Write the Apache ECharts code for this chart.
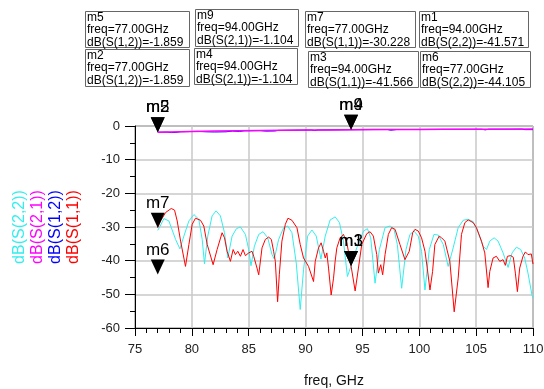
<!DOCTYPE html>
<html>
<head>
<meta charset="utf-8">
<style>html,body{margin:0;padding:0;background:#fff;}#chart{width:544px;height:389px;}</style>
<script src="https://cdn.jsdelivr.net/npm/echarts@6/dist/echarts.min.js"></script>
</head>
<body>
<div id="chart"></div>
<script>
// ---------------- data ----------------
var xTicks = [75, 80, 85, 90, 95, 100, 105, 110];
var yTicks = [0, -10, -20, -30, -40, -50, -60];

var s11Freq = [77.0,77.25,77.69,78.19,78.48,78.71,79.01,79.44,79.74,80.03,80.32,80.76,81.05,81.35,81.87,82.22,82.66,82.87,83.10,83.39,83.63,83.83,84.04,84.27,84.50,84.71,85.0,85.29,85.44,85.73,85.88,86.17,86.46,86.75,86.99,87.19,87.34,87.54,87.69,87.92,88.22,88.45,88.80,89.24,89.53,89.82,90.26,90.70,90.85,91.14,91.37,91.58,91.73,91.87,92.02,92.25,92.46,92.60,92.75,93.04,93.33,93.63,94.0,94.36,94.65,94.94,95.38,95.67,95.96,96.26,96.40,96.61,96.78,96.99,97.28,97.57,97.87,98.30,98.74,98.89,99.12,99.42,99.62,99.91,100.20,100.50,100.70,100.94,101.17,101.37,101.75,101.96,102.25,102.69,103.07,103.42,103.71,104.01,104.30,104.74,105.03,105.47,105.76,106.05,106.20,106.49,106.78,107.08,107.37,107.57,107.75,108.04,108.27,108.45,108.63,108.83,109.12,109.33,109.56,109.85,110.0];
var s11dB = [-30.23,-28.2,-25.7,-24.5,-25.0,-28.2,-34.2,-41.7,-35.2,-29.2,-27.4,-28.0,-29.7,-35.2,-41.2,-36.7,-31.7,-33.2,-37.2,-40.2,-36.7,-38.2,-37.2,-38.7,-36.7,-38.5,-37.7,-37.2,-38.7,-42.2,-44.2,-36.2,-33.7,-33.0,-33.7,-37.2,-40.2,-52.2,-44.2,-34.2,-29.2,-27.4,-28.0,-30.2,-35.2,-39.2,-41.7,-46.2,-40.2,-36.2,-34.7,-37.2,-39.2,-37.7,-42.2,-50.2,-45.2,-40.2,-36.2,-33.2,-32.2,-34.7,-41.57,-49.0,-42.2,-35.2,-32.0,-31.4,-32.7,-38.2,-43.7,-41.2,-44.2,-38.2,-32.2,-30.2,-30.7,-35.2,-39.7,-40.2,-37.2,-31.7,-30.7,-31.2,-33.2,-37.2,-42.2,-48.7,-43.2,-35.2,-32.7,-33.2,-34.2,-40.2,-55.2,-45.2,-32.2,-28.7,-27.9,-28.7,-30.2,-34.2,-37.7,-48.0,-43.2,-39.2,-38.7,-40.2,-39.7,-41.4,-38.7,-38.5,-39.0,-43.7,-49.2,-42.2,-38.7,-37.4,-38.2,-38.0,-41.0];

var s22Freq = [77.0,77.19,77.54,77.98,78.57,78.95,79.30,79.74,80.18,80.61,80.91,81.11,81.40,81.78,82.13,82.51,82.87,83.16,83.54,83.92,84.27,84.71,85.00,85.20,85.50,85.88,86.26,86.67,87.05,87.25,87.63,88.07,88.42,88.80,89.18,89.53,89.82,90.18,90.56,90.94,91.35,91.73,92.16,92.60,92.98,93.33,93.68,94.0,94.50,95.09,95.44,95.73,96.11,96.49,96.99,97.43,97.78,98.07,98.45,98.83,99.18,99.53,99.91,100.20,100.50,100.88,101.29,101.67,102.11,102.54,102.98,103.42,103.86,104.30,104.74,105.18,105.61,105.91,106.20,106.58,106.93,107.37,107.81,108.16,108.54,108.92,109.27,109.56,109.91,110.0];
var s22dB = [-31.0,-29.9,-27.5,-28.2,-33.7,-36.5,-32.7,-28.2,-26.3,-27.7,-33.7,-40.9,-32.7,-26.7,-25.2,-26.7,-31.7,-39.2,-32.7,-30.5,-30.0,-32.2,-36.7,-41.5,-35.7,-32.2,-31.4,-33.2,-38.2,-39.5,-33.7,-30.2,-29.7,-31.7,-40.7,-54.5,-42.7,-32.7,-30.9,-32.7,-39.5,-32.7,-27.9,-27.0,-28.7,-34.2,-44.7,-41.57,-36.2,-31.2,-30.5,-33.2,-46.7,-36.7,-30.2,-29.7,-30.7,-35.2,-48.2,-36.7,-32.2,-31.2,-32.7,-37.2,-48.7,-36.7,-32.2,-32.4,-35.2,-41.7,-36.2,-30.2,-28.0,-27.7,-28.4,-31.7,-35.7,-36.7,-34.2,-33.2,-34.2,-37.7,-42.0,-37.7,-36.0,-36.7,-39.2,-43.7,-50.2,-51.0];

var s21Freq = [77,78,79,80,82,84,86,88,90,92,94,96,98,100,102,104,106,108,110];
var s21dB = [-1.859,-1.78,-1.70,-1.62,-1.52,-1.44,-1.36,-1.29,-1.22,-1.16,-1.104,-1.07,-1.04,-1.02,-1.00,-0.98,-0.96,-0.94,-0.92];

var s12Freq = [77,77.8,78.2,78.6,79,80.5,81.2,82,83,83.6,84.2,84.6,86,86.5,87.3,87.6,90.5,90.8,91.1,94,97.2,97.5,98,105.5,105.8,106.1,109,109.3,110];
var s12dB = [-1.859,-1.82,-1.95,-1.9,-1.70,-1.60,-1.72,-1.78,-1.72,-1.5,-1.62,-1.43,-1.37,-1.52,-1.48,-1.3,-1.20,-1.35,-1.18,-1.104,-1.05,-1.25,-1.05,-0.97,-1.15,-0.96,-0.93,-1.08,-1.08];

var seriesNames = ['dB(S(1,1))', 'dB(S(1,2))', 'dB(S(2,1))', 'dB(S(2,2))'];

var markerNames = ['m5','m9','m7','m1','m2','m4','m3','m6'];
var markerFreq  = [77.00, 94.00, 77.00, 94.00, 77.00, 94.00, 94.00, 77.00];
var markerVal   = [-1.859, -1.104, -30.228, -41.571, -1.859, -1.104, -41.566, -44.105];
var markerSeries= ['dB(S(1,2))','dB(S(2,1))','dB(S(1,1))','dB(S(2,2))','dB(S(1,2))','dB(S(2,1))','dB(S(1,1))','dB(S(2,2))'];

// ---------------- styling / layout ----------------
var FONT = 'Liberation Sans, Arial, Helvetica, sans-serif';
var colors = {'dB(S(1,1))':'#ff0000','dB(S(1,2))':'#0000ff','dB(S(2,1))':'#ff00ff','dB(S(2,2))':'#33eeee'};
var boxRects = [
  [85,11,104,36],[195,9,103,37],[305,11,110,36],[419,11,109,36],
  [85,49,104,37],[194,48,103,36],[308,51,110,36],[420,51,110,36]
];
var markerStack = ['m5','m2','m4','m9','m7','m3','m1','m6']; // drawing order of overlapping marker labels
var legendX = {'dB(S(2,2))':20,'dB(S(2,1))':38,'dB(S(1,2))':56,'dB(S(1,1))':74};

function zip(a, b){ var r=[]; for (var i=0;i<a.length;i++) r.push([a[i], b[i]]); return r; }
var seriesData = {
  'dB(S(1,1))': zip(s11Freq, s11dB),
  'dB(S(1,2))': zip(s12Freq, s12dB),
  'dB(S(2,1))': zip(s21Freq, s21dB),
  'dB(S(2,2))': zip(s22Freq, s22dB)
};

function markersFor(name){
  var d=[];
  markerStack.forEach(function(m){
    var i = markerNames.indexOf(m);
    if (markerSeries[i]===name) d.push({name:markerNames[i], coord:[markerFreq[i], markerVal[i]]});
  });
  return d;
}

var drawOrder = ['dB(S(1,2))','dB(S(2,1))','dB(S(2,2))','dB(S(1,1))'];
var series = drawOrder.map(function(n){
  return {
    name: n, type: 'line', data: seriesData[n], symbol: 'none', showSymbol: false,
    lineStyle: {color: colors[n], width: n==='dB(S(2,1))' ? 1.5 : 1}, itemStyle:{color: colors[n]},
    animation: false, z: 3,
    markPoint: {
      symbol: 'triangle', symbolRotate: 180, symbolSize: [14, 15], symbolOffset: [0, '-50%'],
      itemStyle: {color: '#000'},
      label: {show: true, position: 'top', distance: 1, formatter: '{b}', color: '#000', fontSize: 17, fontFamily: FONT},
      data: markersFor(n), animation: false, z: 10
    }
  };
});

var graphics = [];
for (var i=0;i<markerNames.length;i++){
  var r = boxRects[i];
  graphics.push({type:'rect', shape:{x:r[0]+0.5, y:r[1]+0.5, width:r[2], height:r[3]}, style:{fill:'#fff', stroke:'#666', lineWidth:1}, z: 20});
  var txt = markerNames[i] + '\nfreq=' + markerFreq[i].toFixed(2) + 'GHz\n' + markerSeries[i] + '=' + markerVal[i].toFixed(3);
  graphics.push({type:'text', x:r[0]+2, y:r[1]+0.5, style:{text: txt, fill:'#000', font: '12px ' + FONT, lineHeight: 12.4, textAlign:'left', textVerticalAlign:'top'}, z: 21});
}
seriesNames.forEach(function(n){
  graphics.push({type:'text', x: legendX[n], y: 227, rotation: Math.PI/2,
    style:{text:n, fill: colors[n], font: '16px ' + FONT, textAlign:'center', textVerticalAlign:'middle'}, z: 20});
});

var chart = echarts.init(document.getElementById('chart'), null, {renderer:'canvas'});
chart.setOption({
  animation: false,
  backgroundColor: '#fff',
  grid: {left: 135, top: 126, right: 11, bottom: 61, show: true, borderColor: '#444', borderWidth: 1, containLabel: false, outerBoundsMode: 'none'},
  xAxis: {
    type: 'value', min: xTicks[0], max: xTicks[xTicks.length-1], interval: 5,
    axisLine: {show: true, onZero: false, lineStyle: {color: '#000', width: 1}},
    axisTick: {show: true, length: 8, lineStyle: {color: '#000'}},
    minorTick: {show: true, splitNumber: 5, length: 5, lineStyle: {color: '#000'}},
    splitLine: {show: true, lineStyle: {color: '#c8c8c8', width: 1.5}},
    axisLabel: {fontSize: 13, color: '#222', margin: 15, fontFamily: FONT},
    name: 'freq, GHz', nameLocation: 'middle', nameGap: 46,
    nameTextStyle: {fontSize: 14, color: '#111', fontFamily: FONT}
  },
  yAxis: {
    type: 'value', min: yTicks[yTicks.length-1], max: yTicks[0], interval: 10,
    axisLine: {show: true, onZero: false, lineStyle: {color: '#000', width: 1}},
    axisTick: {show: true, length: 10, lineStyle: {color: '#000'}},
    minorTick: {show: true, splitNumber: 2, length: 5, lineStyle: {color: '#000'}},
    splitLine: {show: true, lineStyle: {color: '#c8c8c8', width: 1.5}},
    axisLabel: {fontSize: 13, color: '#222', margin: 15, fontFamily: FONT}
  },
  series: series,
  graphic: graphics
});
</script>
</body>
</html>
